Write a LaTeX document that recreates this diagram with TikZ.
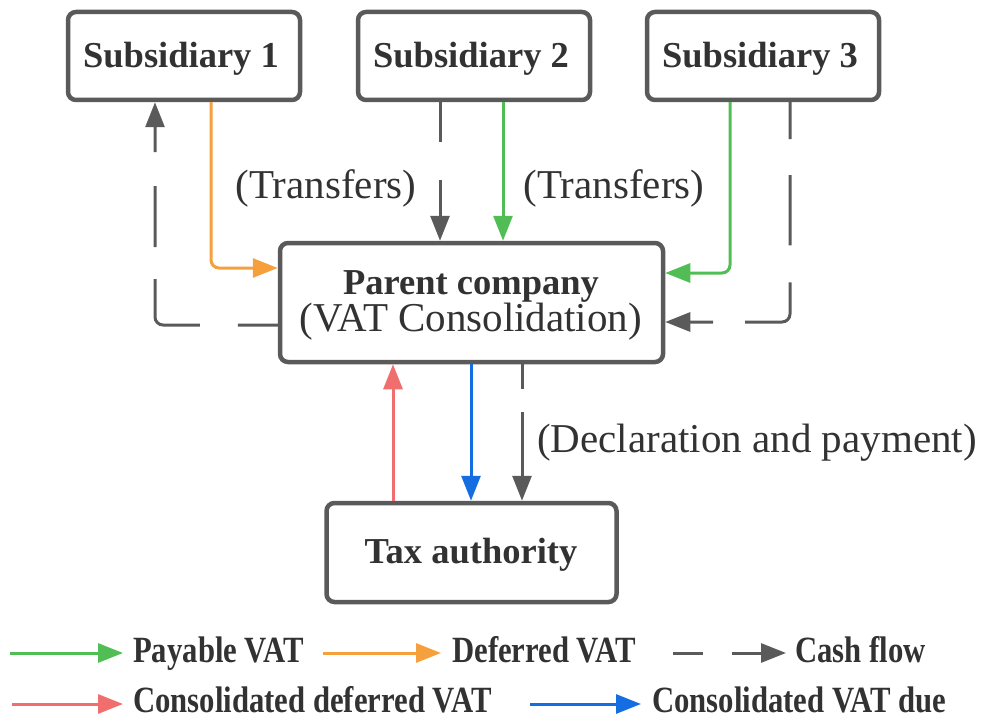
\documentclass[tikz,border=0pt]{standalone}
\usepackage{fontspec}
\setmainfont{Liberation Serif}
\newfontfamily\legfont{Liberation Serif}[FakeStretch=0.83]
\usetikzlibrary{arrows.meta}
\definecolor{cgreen}{RGB}{80,190,85}
\definecolor{corange}{RGB}{245,160,60}
\definecolor{cgrey}{RGB}{90,90,90}
\definecolor{cred}{RGB}{240,110,110}
\definecolor{cblue}{RGB}{20,110,225}
\definecolor{ctext}{RGB}{50,50,50}
\tikzset{
  box/.style={draw=cgrey, line width=4.5pt, rounded corners=8pt, fill=white, inner sep=0pt},
  boldlab/.style={text=ctext, inner sep=0pt, anchor=base, font=\fontsize{36.5}{40}\selectfont\bfseries},
  reglab/.style={text=ctext, inner sep=0pt, anchor=base, font=\fontsize{41}{44}\selectfont},
  leglab/.style={text=ctext, inner sep=0pt, anchor=base west, font=\legfont\fontsize{37}{40}\selectfont\bfseries},
  flow/.style={line width=3pt, rounded corners=8pt, -{Triangle[length=25pt,width=19pt]}},
  payable/.style={flow, draw=cgreen},
  deferred/.style={flow, draw=corange},
  cash/.style={flow, draw=cgrey},
  cdeferred/.style={flow, draw=cred},
  cdue/.style={flow, draw=cblue},
}
\begin{document}
\begin{tikzpicture}[x=1pt, y=-1pt]
\useasboundingbox (0,0) rectangle (984,722);
% boxes
\node[box, minimum width=232pt, minimum height=88pt] (s1) at (184,56) {};
\node[box, minimum width=232pt, minimum height=88pt] (s2) at (474,56) {};
\node[box, minimum width=232pt, minimum height=88pt] (s3) at (763,56) {};
\node[box, minimum width=383pt, minimum height=119pt] (p) at (471.5,302.5) {};
\node[box, minimum width=290pt, minimum height=99pt] (t) at (471.5,552.5) {};
% box texts
\node[boldlab] (s1t) at (181,68) {Subsidiary 1};
\node[boldlab] (s2t) at (471,68) {Subsidiary 2};
\node[boldlab] (s3t) at (760,68) {Subsidiary 3};
\node[boldlab] (pt1) at (471,294) {Parent company};
\node[reglab] (pt2) at (471,331) {(VAT Consolidation)};
\node[boldlab] (tt) at (471,563) {Tax authority};
% free labels
\node[reglab] (tr1) at (326,198) {(Transfers)};
\node[reglab] (tr2) at (614,198) {(Transfers)};
\node[reglab] (dp) at (757,452) {(Declaration and payment)};
% x / y helpers
\coordinate (xA) at (155,0);
\coordinate (xB) at (211,0);
\coordinate (xC) at (440,0);
\coordinate (xD) at (503,0);
\coordinate (xE) at (730,0);
\coordinate (xF) at (790,0);
\coordinate (xG) at (393,0);
\coordinate (xH) at (471,0);
\coordinate (xI) at (522,0);
\coordinate (yA) at (0,325);
\coordinate (yB) at (0,268);
\coordinate (yE) at (0,273);
\coordinate (yF) at (0,322);
% connectors
\draw[cash, dash pattern=on 40pt off 38pt on 87pt off 32pt on 61pt off 34pt on 200pt]
  (p.west |- yA) -| (s1.south -| xA);
\draw[deferred] (s1.south -| xB) |- (p.west |- yB);
\draw[cash, dash pattern=on 40pt off 38pt on 200pt] (s2.south -| xC) -- (p.north -| xC);
\draw[payable] (s2.south -| xD) -- (p.north -| xD);
\draw[payable] (s3.south -| xE) |- (p.east |- yE);
\draw[cash, dash pattern=on 37pt off 36pt on 70pt off 37pt on 81pt off 32pt on 200pt]
  (s3.south -| xF) |- (p.east |- yF);
\draw[cdeferred] (t.north -| xG) -- (p.south -| xG);
\draw[cdue] (p.south -| xH) -- (t.north -| xH);
\draw[cash, dash pattern=on 25pt off 23pt on 200pt] (p.south -| xI) -- (t.north -| xI);
% legend
\node[leglab] (l1) at (133,662) {Payable VAT};
\node[leglab] (l2) at (452,662) {Deferred VAT};
\node[leglab] (l3) at (795,662) {Cash flow};
\node[leglab] (l4) at (133,712) {Consolidated deferred VAT};
\node[leglab] (l5) at (652,712) {Consolidated VAT due};
\coordinate (a1s) at (10,653);  \coordinate (a1e) at (123,653);
\coordinate (a2s) at (323,653); \coordinate (a2e) at (441,653);
\coordinate (a3s) at (673,653); \coordinate (a3e) at (786,653);
\coordinate (a4s) at (12,704);  \coordinate (a4e) at (123,704);
\coordinate (a5s) at (530,704); \coordinate (a5e) at (641,704);
\draw[payable] (a1s) -- (a1e);
\draw[deferred] (a2s) -- (a2e);
\draw[cash, dash pattern=on 30pt off 29pt on 200pt] (a3s) -- (a3e);
\draw[cdeferred] (a4s) -- (a4e);
\draw[cdue] (a5s) -- (a5e);
\end{tikzpicture}
\end{document}
